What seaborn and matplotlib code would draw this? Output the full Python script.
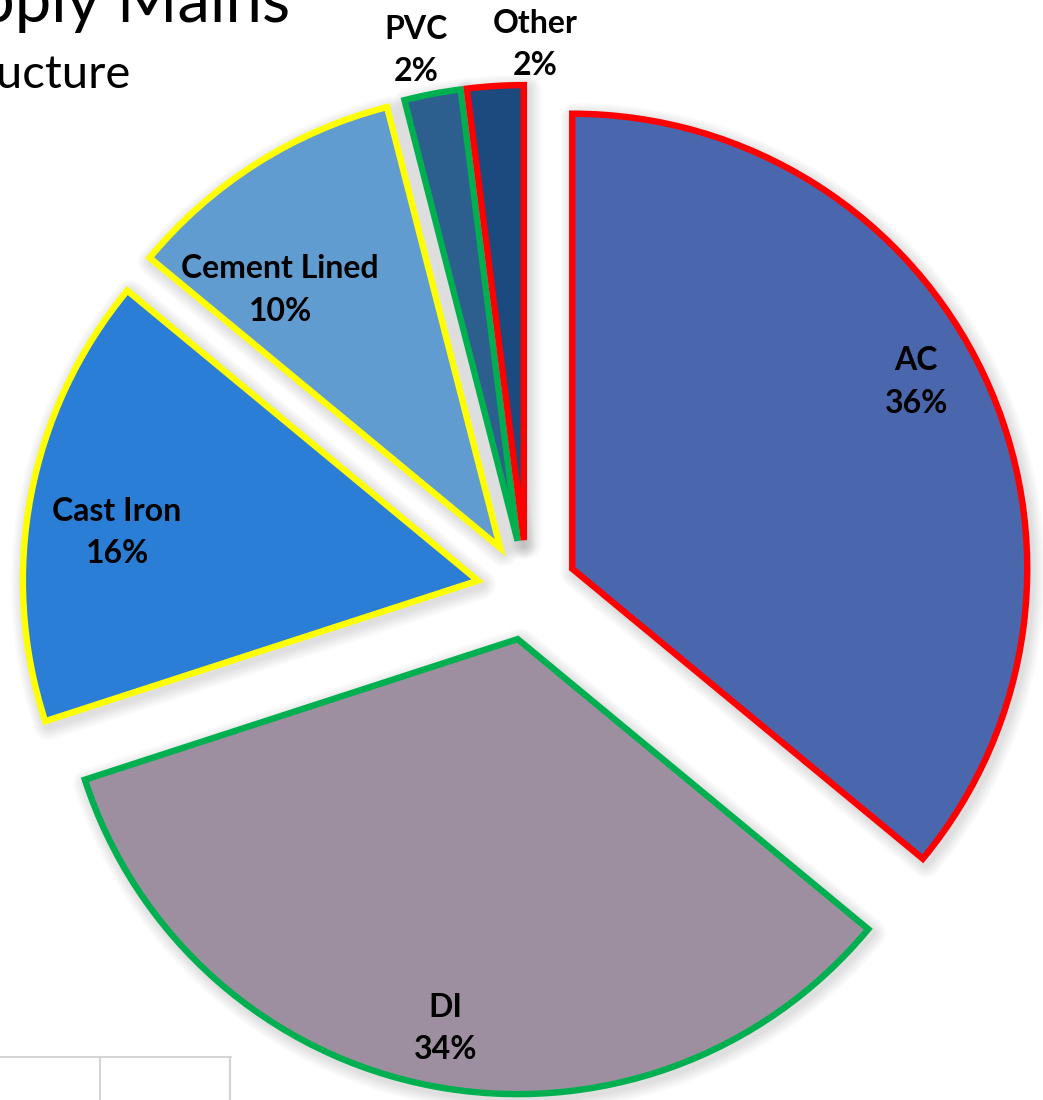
import matplotlib
matplotlib.use("Agg")
import matplotlib.pyplot as plt
import numpy as np
import seaborn as sns
from matplotlib.lines import Line2D
from matplotlib.patches import Wedge

# ---- data ----
materials = ["AC", "DI", "Cast Iron", "Cement Lined", "PVC", "Other"]
shares = [36, 34, 16, 10, 2, 2]
title_line1 = "Water Supply Mains"
title_line2 = "Infrastructure"

# ---- styles ----
fill_colors = ["#4A66AD", "#9D8FA0", "#2A7ED6", "#619CD0", "#2C5E8E", "#1D4A7E"]
edge_colors = ["#FF0000", "#00B050", "#FFFF00", "#FFFF00", "#00B050", "#FF0000"]
label_dist = [0.86, 0.87, 0.80, 0.745, 1.10, 1.09]
label_dang = [3.3, 0.3, 3.2, 8.1, 0.9, -4.9]

sns.set_theme(style="white")
plt.rcParams["font.family"] = ["Lato", "DejaVu Sans"]

W, H = 1043, 1100
fig = plt.figure(figsize=(W / 100, H / 100), dpi=100)
ax = fig.add_axes([0, 0, 1, 1])

R = 455
center = (527, H - 590)
wedges, _ = ax.pie(
    shares,
    startangle=90,
    counterclock=False,
    radius=R,
    center=center,
    explode=[50] * len(shares),
    colors=fill_colors,
    wedgeprops=dict(linewidth=4.6, joinstyle="miter", zorder=3),
    frame=True,
)
for w, ec in zip(wedges, edge_colors):
    w.set_edgecolor(ec)

# soft outer shadow behind each wedge
for w in wedges:
    cx, cy = w.center
    for k in range(8):
        sh = Wedge((cx + 3, cy - 4), w.r, w.theta1, w.theta2,
                   facecolor="none", edgecolor="black", linewidth=6 + 2.2 * k,
                   alpha=0.014, joinstyle="round", zorder=1)
        ax.add_patch(sh)

ax.set_aspect("auto")
ax.set_xlim(0, W)
ax.set_ylim(0, H)
ax.axis("off")

for w, name, pct, d, da in zip(wedges, materials, shares, label_dist, label_dang):
    ang = np.deg2rad((w.theta1 + w.theta2) / 2 + da)
    cx, cy = w.center
    ax.text(cx + d * w.r * np.cos(ang), cy + d * w.r * np.sin(ang),
            f"{name}\n{pct}%", ha="center", va="center", zorder=5,
            fontsize=23, fontweight="bold", color="black", linespacing=1.55)

# title, partly outside the canvas on the left (as in the reference crop)
fig.text(290 / W, 1 - 22 / H, title_line1, ha="right", va="baseline",
         fontsize=47, color="black")
fig.text(131 / W, 1 - 88 / H, title_line2, ha="right", va="baseline",
         fontsize=34, color="black")

# partial table grid at bottom-left
gc = "#D4D4D4"
fig.add_artist(Line2D([0, 231 / W], [1 - 1057 / H] * 2, color=gc, lw=1.5, transform=fig.transFigure))
fig.add_artist(Line2D([100 / W] * 2, [1 - 1057 / H, 0], color=gc, lw=1.5, transform=fig.transFigure))
fig.add_artist(Line2D([230 / W] * 2, [1 - 1057 / H, 0], color=gc, lw=1.5, transform=fig.transFigure))

fig.savefig("out.png", dpi=100, facecolor="white")
